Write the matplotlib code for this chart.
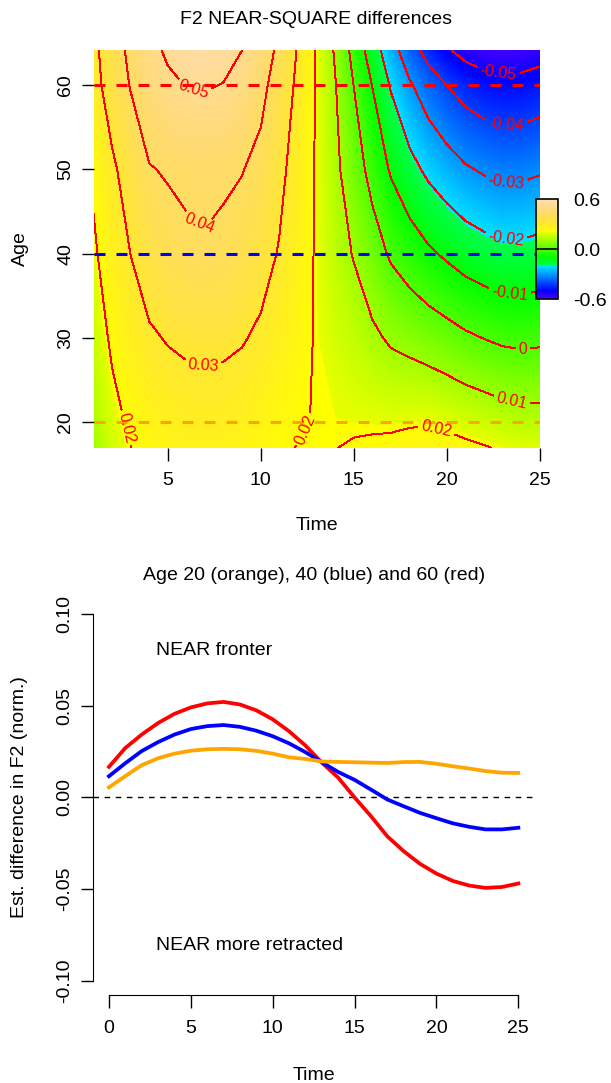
import colorsys
import numpy as np
import matplotlib
matplotlib.use('Agg')
import matplotlib.pyplot as plt

plt.rcParams['font.family'] = ['Liberation Sans', 'DejaVu Sans']
plt.rcParams['axes.unicode_minus'] = False

# time axis (both panels)
time = list(range(26))

# lower panel: estimated NEAR-SQUARE difference at age 20 / 40 / 60
diff_age20 = [0.0054, 0.0116, 0.0175, 0.0213, 0.0238, 0.0254, 0.0262, 0.0264, 0.0262,
              0.0253, 0.0238, 0.0218, 0.0209, 0.0195, 0.0193, 0.0191, 0.0189, 0.0187,
              0.0192, 0.0193, 0.0183, 0.0169, 0.0157, 0.0143, 0.0134, 0.0133]
diff_age40 = [0.0115, 0.0186, 0.0252, 0.0301, 0.0342, 0.0372, 0.0388, 0.0394, 0.0384,
              0.0363, 0.0333, 0.0294, 0.0246, 0.0191, 0.0138, 0.0095, 0.0042, -0.0012,
              -0.0049, -0.0085, -0.0114, -0.0142, -0.0161, -0.0175, -0.0175, -0.0166]
diff_age60 = [0.0166, 0.0269, 0.0342, 0.0405, 0.0455, 0.0490, 0.0512, 0.0520, 0.0506,
              0.0474, 0.0425, 0.0360, 0.0282, 0.0189, 0.0107, -0.0001, -0.0103, -0.0213,
              -0.0294, -0.0363, -0.0416, -0.0456, -0.0481, -0.0494, -0.0489, -0.0470]

# upper panel: surface rows (age -> values over time), ages 20/40 use the curves above
surf_ages = [16.9, 20, 30, 40, 50, 60, 64.2]
surf_age17 = [0.0045, 0.0100, 0.0163, 0.0199, 0.0222, 0.0236, 0.0243, 0.0244, 0.0243,
              0.0236, 0.0224, 0.0209, 0.0198, 0.0196, 0.0199, 0.0206, 0.0212, 0.0218,
              0.0227, 0.0235, 0.0230, 0.0217, 0.0206, 0.0192, 0.0182, 0.0179]
surf_age30 = [0.0085, 0.0151, 0.0214, 0.0257, 0.0290, 0.0305, 0.0314, 0.0318, 0.0315,
              0.0306, 0.0286, 0.0256, 0.0228, 0.0193, 0.0166, 0.0143, 0.0116, 0.0088,
              0.0072, 0.0054, 0.0035, 0.0014, -0.0002, -0.0016, -0.0021, -0.0017]
surf_age50 = [0.0135, 0.0215, 0.0285, 0.0340, 0.0396, 0.0406, 0.0412, 0.0414, 0.0411,
              0.0403, 0.0376, 0.0322, 0.0262, 0.0191, 0.0120, 0.0046, -0.0031, -0.0110,
              -0.0169, -0.0219, -0.0257, -0.0290, -0.0310, -0.0323, -0.0322, -0.0310]
surf_age60 = [0.0166, 0.0268, 0.0343, 0.0405, 0.0452, 0.0484, 0.0502, 0.0507, 0.0497,
              0.0468, 0.0424, 0.0360, 0.0281, 0.0193, 0.0105, -0.0001, -0.0102, -0.0208,
              -0.0288, -0.0352, -0.0400, -0.0437, -0.0460, -0.0470, -0.0468, -0.0455]
surf_age64 = [0.0180, 0.0278, 0.0354, 0.0421, 0.0475, 0.0513, 0.0535, 0.0541, 0.0530,
              0.0500, 0.0452, 0.0380, 0.0293, 0.0192, 0.0090, -0.0030, -0.0150, -0.0260,
              -0.0358, -0.0432, -0.0490, -0.0530, -0.0553, -0.0562, -0.0557, -0.0540]

contour_levels = [-0.05, -0.04, -0.03, -0.02, -0.01, 0.0, 0.01, 0.02, 0.03, 0.04, 0.05]
contour_labels = ['-0.05', '-0.04', '-0.03', '-0.02', '-0.01', '0',
                  '0.01', '0.02', '0.03', '0.04', '0.05']
# where R put the contour labels (time, age)
label_spots = [(6.4, 59.6), (6.7, 43.5), (6.9, 26.8), (3.0, 19.4), (12.1, 19.4),
               (19.4, 18.8), (23.5, 22.4), (24.1, 28.7), (23.4, 35.8), (23.2, 42.6),
               (23.2, 48.9), (23.2, 55.5), (22.8, 61.8)]

ref_ages = [20, 40, 60]
ref_cols = ['#FFA500', '#0000FF', '#FF0000']
zlim = 0.0575
cbar_ticks = [-zlim, 0.0, zlim]
cbar_ticklabels = ['-0.6', '0.0', '0.6']

top_xticks = [5, 10, 15, 20, 25]
top_yticks = [20, 30, 40, 50, 60]
bot_xticks = [0, 5, 10, 15, 20, 25]
bot_yticks = [-0.10, -0.05, 0.0, 0.05, 0.10]
bot_yticklabels = ['-0.10', '-0.05', '0.00', '0.05', '0.10']


def topo_colors(n):
    # same recipe as R's topo.colors()
    j = n // 3
    k = n // 3
    i = n - j - k
    cols = [colorsys.hsv_to_rgb(h, 1, 1) for h in np.linspace(43 / 60, 31 / 60, i)]
    cols += [colorsys.hsv_to_rgb(h, 1, 1) for h in np.linspace(23 / 60, 11 / 60, j)]
    cols += [colorsys.hsv_to_rgb(h, s, 1) for h, s in
             zip(np.linspace(10 / 60, 6 / 60, k), np.linspace(1, 0.3, k))]
    return matplotlib.colors.ListedColormap(cols)


W, H = 611, 1083


def box(l, t, r, b):
    return [l / W, 1 - b / H, (r - l) / W, (b - t) / H]


def ftext(x, y, s, **kw):
    fig.text(x / W, 1 - y / H, s, ha='center', va='center', **kw)


topo = topo_colors(240)
fig = plt.figure(figsize=(W / 100, H / 100), dpi=100)

# ---------------- upper panel: surface ----------------
ax1 = fig.add_axes(box(93.5, 50, 539.6, 448))
T, A = np.meshgrid(time, surf_ages)
Z = np.array([surf_age17, diff_age20, surf_age30, diff_age40, surf_age50,
              surf_age60, surf_age64])
cf = ax1.contourf(T, A, Z, levels=np.linspace(-zlim, zlim, 241), cmap=topo,
                  vmin=-zlim, vmax=zlim, antialiased=False)
cs = ax1.contour(T, A, Z, levels=contour_levels, colors='#FF0000',
                 linewidths=0.7, linestyles='solid', antialiased=False)
lab = dict(zip(cs.levels, contour_labels))
ax1.clabel(cs, levels=cs.levels, fmt=lab, manual=label_spots, inline=True,
           inline_spacing=3, fontsize=11.5)
for age, col in zip(ref_ages, ref_cols):
    ax1.axhline(age, color=col, lw=2.2, linestyle=(0, (3.6, 3.6)))
ax1.set_xlim(1, 25)
ax1.set_ylim(16.9, 64.2)
for s in ax1.spines.values():
    s.set_visible(False)
ax1.set_xticks(top_xticks)
ax1.set_yticks(top_yticks)
ax1.tick_params(direction='out', length=9, width=1, labelsize=14)
ax1.tick_params(axis='x', pad=8)
ax1.tick_params(axis='y', pad=5)
for t in ax1.get_yticklabels():
    t.set_rotation(90)
    t.set_va('center')

# colour legend
cax = fig.add_axes(box(536, 199, 558, 299))
cb = fig.colorbar(cf, cax=cax)
cb.set_ticks(cbar_ticks)
cb.set_ticklabels(cbar_ticklabels)
cax.tick_params(length=0, labelsize=14, pad=11)
cb.outline.set_linewidth(1.2)
cax.axhline(0, color='black', lw=1.2)

ftext(316.5, 20, 'F2 NEAR-SQUARE differences', fontsize=14)
ftext(20, 249, 'Age', fontsize=14, rotation=90)
ftext(316.5, 525, 'Time', fontsize=14)

# ---------------- lower panel: three ages ----------------
ax2 = fig.add_axes(box(92.6, 599.2, 534.7, 995.4))
ax2.axhline(0, color='black', lw=1, linestyle=(0, (4, 4)))
for vals, col in zip([diff_age60, diff_age40, diff_age20], ref_cols[::-1]):
    ax2.plot(time, vals, color=col, lw=2.7)
ax2.set_xlim(-1, 26)
ax2.set_ylim(-0.108, 0.108)
ax2.spines['top'].set_visible(False)
ax2.spines['right'].set_visible(False)
ax2.spines['left'].set_bounds(-0.10, 0.10)
ax2.spines['bottom'].set_bounds(0, 25)
ax2.set_xticks(bot_xticks)
ax2.set_yticks(bot_yticks)
ax2.set_yticklabels(bot_yticklabels, rotation=90, va='center')
ax2.tick_params(direction='out', length=9, width=1, labelsize=14)
ax2.tick_params(axis='x', pad=9)
ax2.tick_params(axis='y', pad=5)
ax2.text(2.9, 0.080, 'NEAR fronter', ha='left', va='center', fontsize=14)
ax2.text(2.9, -0.081, 'NEAR more retracted', ha='left', va='center', fontsize=14)

ftext(313.6, 575, 'Age 20 (orange), 40 (blue) and 60 (red)', fontsize=14)
ftext(20, 797, 'Est. difference in F2 (norm.)', fontsize=14, rotation=90)
ftext(313.6, 1075, 'Time', fontsize=14)

fig.savefig('out.png', dpi=100)
